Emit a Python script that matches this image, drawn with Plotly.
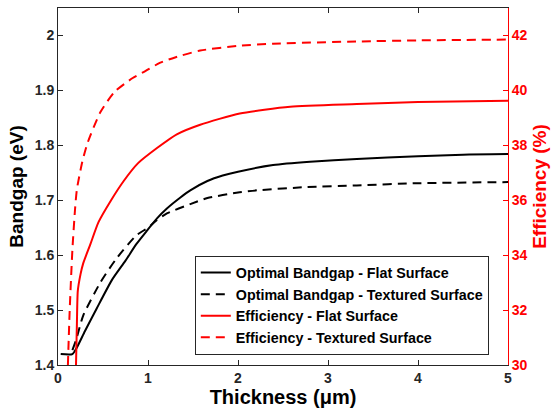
import plotly.graph_objects as go

# Thickness (um) and optimal bandgap (eV) for flat and textured surfaces
x_bg_flat = [0.03, 0.16, 0.21, 0.30, 0.43, 0.60, 0.75, 0.87, 0.99, 1.10, 1.21, 1.36, 1.47,
             1.66, 1.83, 2.00, 2.39, 2.80, 3.32, 4.00, 4.50, 5.00]
bg_flat = [1.420, 1.420, 1.432, 1.462, 1.503, 1.555, 1.590, 1.620, 1.645, 1.667, 1.685, 1.705,
           1.718, 1.735, 1.745, 1.752, 1.764, 1.770, 1.775, 1.780, 1.783, 1.784]

x_bg_tex = [0.16, 0.20, 0.28, 0.47, 0.65, 0.87, 1.00, 1.10, 1.21, 1.47, 1.66, 2.00, 2.21,
            2.77, 3.32, 4.00, 5.00]
bg_tex = [1.427, 1.445, 1.490, 1.550, 1.594, 1.636, 1.650, 1.664, 1.676, 1.693, 1.704, 1.714,
          1.718, 1.724, 1.727, 1.731, 1.733]

# Thickness (um) and efficiency (%) for flat and textured surfaces
x_eff_flat = [0.20, 0.21, 0.22, 0.25, 0.28, 0.36, 0.45, 0.59, 0.73, 0.89, 1.10, 1.32, 1.58,
              2.02, 2.58, 3.32, 4.00, 5.00]
eff_flat = [30.0, 31.5, 32.7, 33.3, 33.7, 34.4, 35.2, 36.0, 36.7, 37.35, 37.9, 38.4, 38.75,
            39.16, 39.4, 39.5, 39.58, 39.62]

x_eff_tex = [0.11, 0.13, 0.16, 0.19, 0.21, 0.27, 0.33, 0.47, 0.63, 0.83, 0.97, 1.13, 1.30,
             1.58, 2.00, 2.39, 3.32, 4.00, 5.00]
eff_tex = [30.0, 32.0, 34.2, 35.7, 36.4, 37.4, 38.1, 39.2, 39.95, 40.45, 40.7, 41.0, 41.2,
           41.45, 41.62, 41.7, 41.78, 41.82, 41.85]

x_ticks = [0, 1, 2, 3, 4, 5]
bg_ticks = [1.4, 1.5, 1.6, 1.7, 1.8, 1.9, 2.0]
bg_labels = ["1.4", "1.5", "1.6", "1.7", "1.8", "1.9", "2"]
eff_ticks = [30, 32, 34, 36, 38, 40, 42]

FONT = "Liberation Sans, Arial, sans-serif"
DARK = "#262626"
RED = "#ff0000"
SMOOTH = dict(shape="spline", smoothing=0.6)

fig = go.Figure()
fig.add_trace(go.Scatter(x=x_bg_flat, y=bg_flat, mode="lines",
                         name="Optimal Bandgap - Flat Surface",
                         line=dict(color="black", width=2, **SMOOTH)))
fig.add_trace(go.Scatter(x=x_bg_tex, y=bg_tex, mode="lines",
                         name="Optimal Bandgap - Textured Surface",
                         line=dict(color="black", width=2, dash="9px,6px", **SMOOTH)))
fig.add_trace(go.Scatter(x=x_eff_flat, y=eff_flat, mode="lines", yaxis="y2",
                         name="Efficiency - Flat Surface",
                         line=dict(color=RED, width=2, **SMOOTH)))
fig.add_trace(go.Scatter(x=x_eff_tex, y=eff_tex, mode="lines", yaxis="y2",
                         name="Efficiency - Textured Surface",
                         line=dict(color=RED, width=2, dash="9px,6px", **SMOOTH)))

fig.update_layout(
    width=551, height=412,
    margin=dict(l=58, r=43, t=8, b=47, autoexpand=False),
    paper_bgcolor="white", plot_bgcolor="white",
    font=dict(family=FONT, color=DARK, size=14),
    showlegend=True,
    legend=dict(x=0.304, y=0.306, xanchor="left", yanchor="top",
                bgcolor="white", bordercolor=DARK, borderwidth=1,
                font=dict(family=FONT, size=14.3, color="black", weight="bold"),
                tracegroupgap=0, itemwidth=30),
    xaxis=dict(range=[0, 5], tickvals=x_ticks, ticks="inside", ticklen=5,
               tickcolor=DARK, showline=True, linecolor=DARK, linewidth=1,
               mirror="ticks", showgrid=False, zeroline=False, automargin=False,
               tickfont=dict(family=FONT, size=14, color=DARK, weight="bold"),
               title=dict(text="Thickness (μm)", standoff=2,
                          font=dict(family=FONT, size=20, color="black", weight="bold"))),
    yaxis=dict(range=[1.4, 2.05], tickvals=bg_ticks, ticktext=bg_labels,
               ticks="inside", ticklen=5, tickcolor=DARK, showline=True,
               linecolor=DARK, linewidth=1, showgrid=False, zeroline=False,
               automargin=False,
               tickfont=dict(family=FONT, size=14, color=DARK, weight="bold"),
               title=dict(text="Bandgap (eV)", standoff=6,
                          font=dict(family=FONT, size=19, color="black", weight="bold"))),
    yaxis2=dict(range=[30, 43], tickvals=eff_ticks, overlaying="y", side="right",
                ticks="inside", ticklen=5, tickcolor=RED, showline=True,
                linecolor=RED, linewidth=1, showgrid=False, zeroline=False,
                automargin=False,
                tickfont=dict(family=FONT, size=14, color=RED, weight="bold"),
                title=dict(text="Efficiency (%)", standoff=6,
                           font=dict(family=FONT, size=19, color=RED, weight="bold"))),
)

fig.write_html("out.html")
